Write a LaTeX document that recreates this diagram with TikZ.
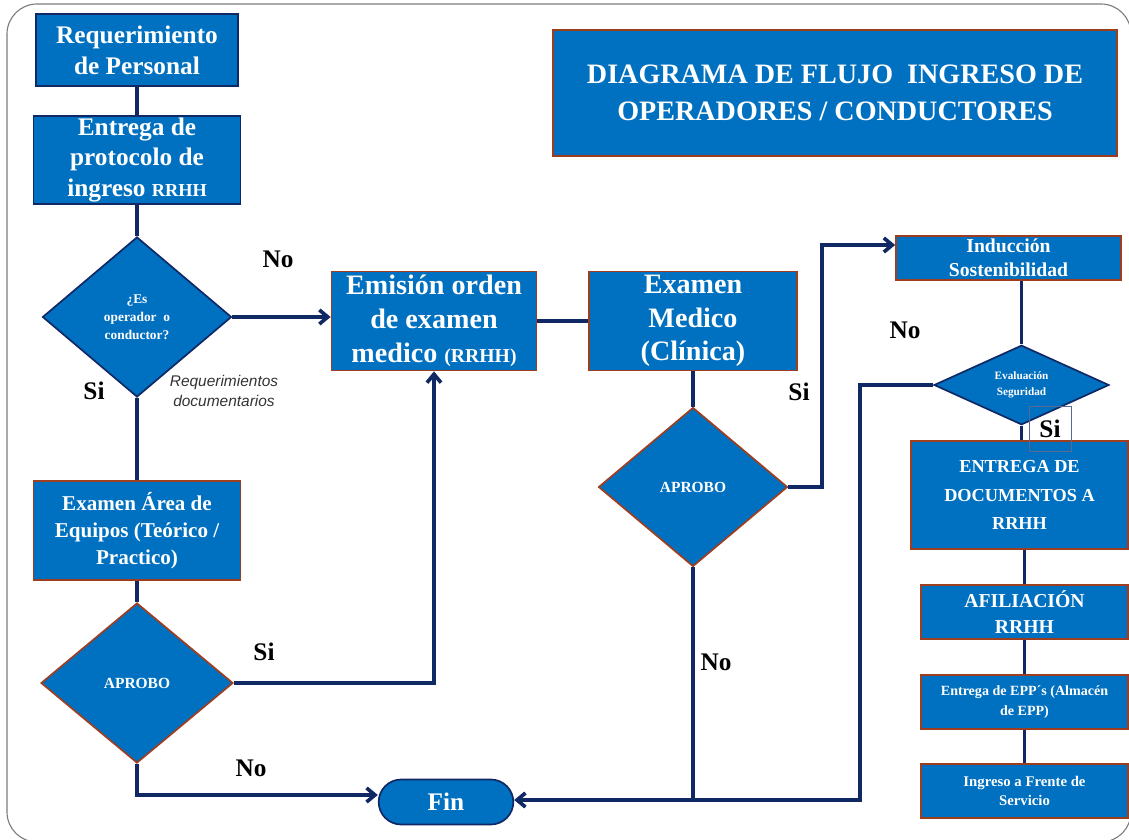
\documentclass[tikz,border=0pt]{standalone}
\usepackage{fontspec}
\setmainfont{Liberation Serif}
\setsansfont{Liberation Sans}
\usetikzlibrary{shapes.geometric,shapes.misc,arrows.meta}
\definecolor{azul}{RGB}{0,112,192}
\definecolor{rojo}{RGB}{158,62,30}
\definecolor{marino}{RGB}{16,40,100}
\definecolor{marco}{RGB}{125,125,125}

\tikzset{
	caja/.style={draw=rojo,line width=1.2pt,fill=azul,text=white,align=center,inner sep=1pt},
	cajaM/.style={caja,draw=marino},
	rombo/.style={diamond,draw=rojo,line width=1.2pt,fill=azul,text=white,align=center,inner sep=0pt},
	linea/.style={marino,line width=2.6pt},
	flecha/.style={linea,-{Straight Barb[length=6pt,width=10pt]}},
	etiqueta/.style={font=\fontsize{18}{20}\selectfont\bfseries,text=black},
}

\begin{document}
\begin{tikzpicture}[x=0.025cm,y=-0.025cm]
%Rahmen
\useasboundingbox (0,0) rectangle (1129,840);
\draw[marco,line width=0.8pt,rounded corners=0.75cm] (7,4) rectangle (1131,842);

%Titel
\node[caja,minimum width=14.1cm,minimum height=3.15cm,font=\fontsize{20}{26}\selectfont\bfseries] (titulo) at (835,93) {DIAGRAMA DE FLUJO\ \ INGRESO DE\\OPERADORES / CONDUCTORES};

%links
\node[cajaM,minimum width=5.05cm,minimum height=1.8cm,font=\fontsize{18}{22}\selectfont\bfseries] (req) at (137,50) {Requerimiento\\de Personal};
\node[cajaM,minimum width=5.175cm,minimum height=2.1cm,font=\fontsize{18}{22}\selectfont\bfseries] (prot) at (137,160) {Entrega de\\protocolo de\\ingreso {\fontsize{13}{13}\selectfont RRHH}};
\node[rombo,draw=marino,minimum width=4.725cm,minimum height=4cm,font=\fontsize{9.5}{13}\selectfont\bfseries] (dia1) at (137,317) {¿Es\\operador\ \ o\\conductor?};
\node[caja,minimum width=5.175cm,minimum height=2.475cm,font=\fontsize{15}{19}\selectfont\bfseries] (area) at (137,530.5) {Examen Área de\\Equipos (Teórico /\\Practico)};
\node[rombo,minimum width=4.8cm,minimum height=4cm,font=\fontsize{11}{13}\selectfont\bfseries] (dia2) at (137,683) {APROBO};
\node[rounded rectangle,draw=marino,line width=1.2pt,fill=azul,text=white,minimum width=3.6cm,minimum height=1.125cm,font=\fontsize{18}{20}\selectfont\bfseries] (fin) at (446,802) {Fin};

%Mitte
\node[caja,minimum width=5.125cm,minimum height=2.475cm,font=\fontsize{20}{24}\selectfont\bfseries] (emision) at (434,321) {Emisión orden\\de examen\\medico {\fontsize{14}{14}\selectfont (RRHH)}};
\node[caja,minimum width=5.2cm,minimum height=2.475cm,font=\fontsize{20}{24}\selectfont\bfseries] (medico) at (693,321) {Examen\\Medico\\(Clínica)};
\node[rombo,minimum width=4.725cm,minimum height=3.975cm,font=\fontsize{11}{13}\selectfont\bfseries] (dia3) at (693,487) {APROBO};

%rechts
\node[caja,minimum width=5.625cm,minimum height=1.1cm,font=\fontsize{14}{17}\selectfont\bfseries] (induccion) at (1008.5,258) {Inducción\\Sostenibilidad};
\node[rombo,draw=marino,minimum width=4.375cm,minimum height=1.95cm,font=\fontsize{8}{11}\selectfont\bfseries] (evaluacion) at (1021.5,385) {Evaluación\\Seguridad};
\node[caja,minimum width=5.425cm,minimum height=2.7cm,font=\fontsize{13}{20}\selectfont\bfseries] (documentos) at (1019.5,495) {ENTREGA DE\\DOCUMENTOS A\\RRHH};
\node[caja,minimum width=5.175cm,minimum height=1.35cm,font=\fontsize{14}{19}\selectfont\bfseries] (afiliacion) at (1024.5,612) {AFILIACIÓN\\RRHH};
\node[caja,minimum width=5.175cm,minimum height=1.35cm,font=\fontsize{10}{14}\selectfont\bfseries] (epp) at (1024.5,702) {Entrega de EPP´s (Almacén\\de EPP)};
\node[caja,minimum width=5.175cm,minimum height=1.35cm,font=\fontsize{10.5}{14}\selectfont\bfseries] (ingreso) at (1024.5,791) {Ingreso a Frente de\\Servicio};

%Hilfspunkte
\coordinate (c0) at (137,795);
\coordinate (c1) at (822,245);
\coordinate (c2) at (860,800);

%Linien
\draw[linea] (req) -- (prot);
\draw[linea] (prot) -- (dia1);
\draw[flecha] (dia1.east) -- (emision.west |- dia1.east);
\draw[linea] (dia1) -- (area);
\draw[linea] (area) -- (dia2);
\draw[flecha] (dia2.east) -| (emision.south);
\draw[flecha] (dia2.south) -- (c0) -- (fin.west |- c0);
\draw[linea] (emision.east) -- (medico.west);
\draw[linea] (medico) -- (dia3);
\draw[flecha] (dia3.east) -| (c1) -- (induccion.west |- c1);
\draw[linea] (dia3.south) -- (dia3.south |- c2);
\draw[linea] (evaluacion.north |- induccion.south) -- (evaluacion.north);
\draw[linea] (evaluacion.south) -- (evaluacion.south |- documentos.north);
\draw[linea] (afiliacion.north |- documentos.south) -- (afiliacion.north);
\draw[linea] (afiliacion) -- (epp);
\draw[linea] (epp) -- (ingreso);
\draw[flecha] (evaluacion.west) -| (c2) -- (fin.east |- c2);

%Beschriftung
\node[etiqueta] (no1) at (278,259) {No};
\node[etiqueta] (si1) at (94,391) {Si};
\node[font=\sffamily\itshape\fontsize{11}{14}\selectfont,text=black!80,align=center] (docs) at (224,391) {Requerimientos\\documentarios};
\node[etiqueta] (si2) at (264,652) {Si};
\node[etiqueta] (no2) at (251,768) {No};
\node[etiqueta] (si3) at (799,392) {Si};
\node[etiqueta] (no3) at (716,662) {No};
\node[etiqueta] (no4) at (905,330) {No};
\node[etiqueta,draw=marino!70,line width=0.5pt,minimum width=1.05cm,minimum height=1.125cm,inner sep=0pt] (si4) at (1050,428.5) {Si};
\end{tikzpicture}
\end{document}
